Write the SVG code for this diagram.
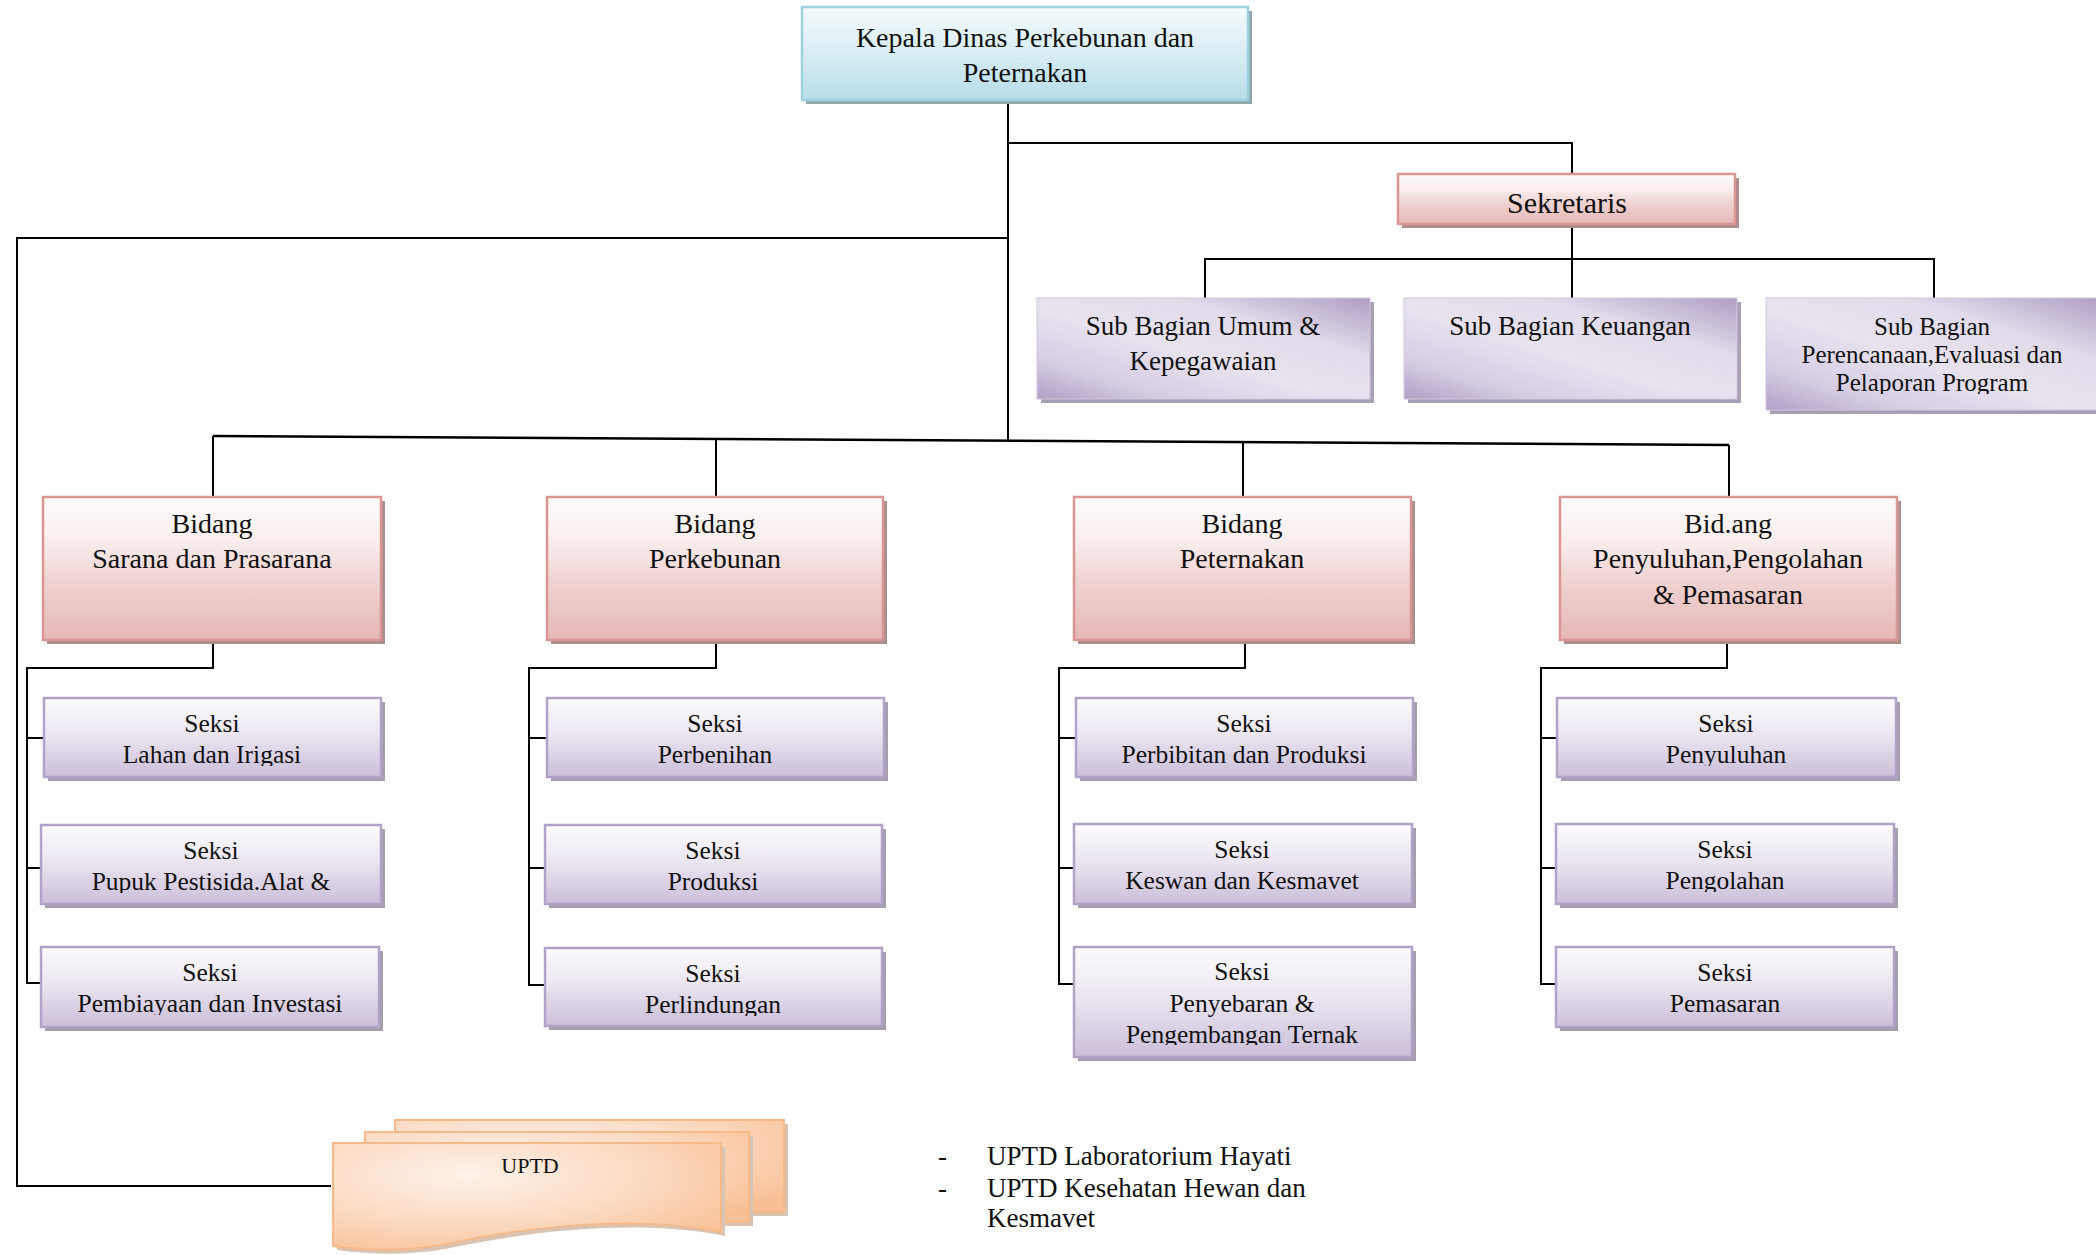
<svg xmlns="http://www.w3.org/2000/svg" width="2096" height="1255" viewBox="0 0 2096 1255">
<defs>
<style>
.lbl{font-family:"Liberation Serif","Times New Roman",serif;fill:#111;text-anchor:middle}
.conn path,.conn line{stroke:#000;stroke-width:2;fill:none}
.shB{fill:#8fa8b1}
.shR{fill:#ab8e8d}
.shP{fill:#a59eae}
.shS{fill:#a79fb3}
.boxTop{fill:url(#gBlue);stroke:#9fd2e0;stroke-width:2.5}
.boxRed{fill:url(#gRed);stroke:#d99694;stroke-width:2.5}
.boxSek{fill:url(#gPur);stroke:#b3a2c7;stroke-width:2.5}
.boxSub{fill:url(#gSub);stroke:#d2c8df;stroke-width:1}
.doc{fill:url(#gPeach);stroke:#f5b98a;stroke-width:2}
.docsh{fill:#d9c3b3}
</style>
<linearGradient id="gBlue" x1="0" y1="0" x2="0" y2="1">
<stop offset="0" stop-color="#f4fafc"/><stop offset="0.45" stop-color="#dbeef4"/><stop offset="1" stop-color="#b6dde8"/>
</linearGradient>
<linearGradient id="gRed" x1="0" y1="0" x2="0" y2="1">
<stop offset="0" stop-color="#fefbfb"/><stop offset="0.3" stop-color="#faeeee"/><stop offset="0.6" stop-color="#efd2d1"/><stop offset="1" stop-color="#e6b8b7"/>
</linearGradient>
<linearGradient id="gPur" x1="0" y1="0" x2="0" y2="1">
<stop offset="0" stop-color="#fcfbfd"/><stop offset="0.45" stop-color="#ebe6f1"/><stop offset="1" stop-color="#cbbfd9"/>
</linearGradient>
<linearGradient id="gSub" x1="1" y1="0" x2="0" y2="1">
<stop offset="0" stop-color="#ae9dc4"/><stop offset="0.3" stop-color="#e2dcea"/><stop offset="0.55" stop-color="#e7e2ee"/><stop offset="0.8" stop-color="#d6cde3"/><stop offset="1" stop-color="#b09fc6"/>
</linearGradient>
<radialGradient id="gPeach" cx="0.35" cy="0.3" r="0.85">
<stop offset="0" stop-color="#fdf1e8"/><stop offset="0.5" stop-color="#fbdcc4"/><stop offset="1" stop-color="#f8bf94"/>
</radialGradient>
<clipPath id="cSek"><rect x="1398" y="174" width="337" height="41"/></clipPath>
<clipPath id="cS3"><rect x="1766" y="298" width="340" height="96"/></clipPath>
<clipPath id="c11"><rect x="44" y="698" width="337" height="68"/></clipPath>
<clipPath id="c12"><rect x="41" y="825" width="340" height="68"/></clipPath>
<clipPath id="c13"><rect x="41" y="947" width="338" height="68"/></clipPath>
<clipPath id="c21"><rect x="547" y="698" width="337" height="68"/></clipPath>
<clipPath id="c22"><rect x="545" y="825" width="337" height="68"/></clipPath>
<clipPath id="c23"><rect x="545" y="948" width="337" height="68"/></clipPath>
<clipPath id="c31"><rect x="1076" y="698" width="337" height="68"/></clipPath>
<clipPath id="c32"><rect x="1074" y="824" width="338" height="68"/></clipPath>
<clipPath id="c33"><rect x="1074" y="947" width="338" height="98"/></clipPath>
<clipPath id="c41"><rect x="1557" y="698" width="339" height="68"/></clipPath>
<clipPath id="c42"><rect x="1556" y="824" width="338" height="68"/></clipPath>
<clipPath id="c43"><rect x="1556" y="947" width="338" height="68"/></clipPath>
</defs>
<rect x="0" y="0" width="2096" height="1255" fill="#fff"/>

<g id="connectors" class="conn">
<path d="M1008,100 V441"/>
<path d="M1008,143 H1572 V174"/>
<path d="M1008,238 H17 V1186 H331"/>
<path d="M1572,224 V298"/>
<path d="M1205,298 V259 H1934 V298"/>
<line x1="213" y1="436" x2="1729" y2="445" style="stroke-width:2.5"/>
<path d="M213,436 V497"/>
<path d="M716,440 V497"/>
<path d="M1243,442 V497"/>
<path d="M1729,445 V497"/>
<path d="M213,640 V668 H27 V983 H41"/>
<path d="M27,738 H44"/>
<path d="M27,868 H41"/>
<path d="M716,640 V668 H529 V985 H545"/>
<path d="M529,738 H547"/>
<path d="M529,868 H545"/>
<path d="M1245,640 V668 H1059 V984 H1074"/>
<path d="M1059,738 H1076"/>
<path d="M1059,868 H1074"/>
<path d="M1727,640 V668 H1541 V984 H1556"/>
<path d="M1541,738 H1557"/>
<path d="M1541,868 H1556"/>
</g>

<g id="kepala">
<rect class="shB" x="806" y="11" width="446" height="93"/>
<rect class="boxTop" x="802" y="7" width="446" height="93"/>
<text class="lbl" font-size="28" x="1025" y="47">Kepala Dinas Perkebunan dan</text>
<text class="lbl" font-size="28" x="1025" y="82">Peternakan</text>
</g>

<g id="sekretaris">
<rect class="shR" x="1402" y="178" width="337" height="50"/>
<rect class="boxRed" x="1398" y="174" width="337" height="50"/>
<text class="lbl" font-size="30" x="1567" y="213" clip-path="url(#cSek)">Sekretaris</text>
</g>

<g id="sub-umum">
<rect class="shS" x="1041" y="302" width="333" height="101"/>
<rect class="boxSub" x="1037" y="298" width="333" height="101"/>
<text class="lbl" font-size="27" x="1203" y="335">Sub Bagian Umum &amp;</text>
<text class="lbl" font-size="27" x="1203" y="370">Kepegawaian</text>
</g>

<g id="sub-keuangan">
<rect class="shS" x="1408" y="302" width="333" height="101"/>
<rect class="boxSub" x="1404" y="298" width="333" height="101"/>
<text class="lbl" font-size="27" x="1570" y="335">Sub Bagian Keuangan</text>
</g>

<g id="sub-perencanaan">
<rect class="shS" x="1770" y="302" width="340" height="112"/>
<rect class="boxSub" x="1766" y="298" width="340" height="112"/>
<g clip-path="url(#cS3)">
<text class="lbl" font-size="25" x="1932" y="335">Sub Bagian</text>
<text class="lbl" font-size="25" x="1932" y="363">Perencanaan,Evaluasi dan</text>
<text class="lbl" font-size="25" x="1932" y="391">Pelaporan Program</text>
</g>
</g>

<g id="bidang-sarana">
<rect class="shR" x="47" y="501" width="338" height="143"/>
<rect class="boxRed" x="43" y="497" width="338" height="143"/>
<text class="lbl" font-size="28" x="212" y="533">Bidang</text>
<text class="lbl" font-size="28" x="212" y="568">Sarana dan Prasarana</text>
</g>

<g id="bidang-perkebunan">
<rect class="shR" x="551" y="501" width="336" height="143"/>
<rect class="boxRed" x="547" y="497" width="336" height="143"/>
<text class="lbl" font-size="28" x="715" y="533">Bidang</text>
<text class="lbl" font-size="28" x="715" y="568">Perkebunan</text>
</g>

<g id="bidang-peternakan">
<rect class="shR" x="1078" y="501" width="337" height="143"/>
<rect class="boxRed" x="1074" y="497" width="337" height="143"/>
<text class="lbl" font-size="28" x="1242" y="533">Bidang</text>
<text class="lbl" font-size="28" x="1242" y="568">Peternakan</text>
</g>

<g id="bidang-penyuluhan">
<rect class="shR" x="1564" y="501" width="337" height="143"/>
<rect class="boxRed" x="1560" y="497" width="337" height="143"/>
<text class="lbl" font-size="28" x="1728" y="533">Bid.ang</text>
<text class="lbl" font-size="28" x="1728" y="568">Penyuluhan,Pengolahan</text>
<text class="lbl" font-size="28" x="1728" y="604">&amp; Pemasaran</text>
</g>

<g id="seksi-lahan">
<rect class="shP" x="48" y="702" width="337" height="79"/>
<rect class="boxSek" x="44" y="698" width="337" height="79"/>
<g clip-path="url(#c11)"><text class="lbl" font-size="25.5" x="212" y="732">Seksi</text><text class="lbl" font-size="25.5" x="212" y="763">Lahan dan Irigasi</text></g>
</g>
<g id="seksi-pupuk">
<rect class="shP" x="45" y="829" width="340" height="79"/>
<rect class="boxSek" x="41" y="825" width="340" height="79"/>
<g clip-path="url(#c12)"><text class="lbl" font-size="25.5" x="211" y="859">Seksi</text><text class="lbl" font-size="25.5" x="211" y="890">Pupuk Pestisida.Alat &amp;</text></g>
</g>
<g id="seksi-pembiayaan">
<rect class="shP" x="45" y="951" width="338" height="80"/>
<rect class="boxSek" x="41" y="947" width="338" height="80"/>
<g clip-path="url(#c13)"><text class="lbl" font-size="25.5" x="210" y="981">Seksi</text><text class="lbl" font-size="25.5" x="210" y="1012">Pembiayaan dan Investasi</text></g>
</g>

<g id="seksi-perbenihan">
<rect class="shP" x="551" y="702" width="337" height="79"/>
<rect class="boxSek" x="547" y="698" width="337" height="79"/>
<g clip-path="url(#c21)"><text class="lbl" font-size="25.5" x="715" y="732">Seksi</text><text class="lbl" font-size="25.5" x="715" y="763">Perbenihan</text></g>
</g>
<g id="seksi-produksi">
<rect class="shP" x="549" y="829" width="337" height="79"/>
<rect class="boxSek" x="545" y="825" width="337" height="79"/>
<g clip-path="url(#c22)"><text class="lbl" font-size="25.5" x="713" y="859">Seksi</text><text class="lbl" font-size="25.5" x="713" y="890">Produksi</text></g>
</g>
<g id="seksi-perlindungan">
<rect class="shP" x="549" y="952" width="337" height="78"/>
<rect class="boxSek" x="545" y="948" width="337" height="78"/>
<g clip-path="url(#c23)"><text class="lbl" font-size="25.5" x="713" y="982">Seksi</text><text class="lbl" font-size="25.5" x="713" y="1013">Perlindungan</text></g>
</g>

<g id="seksi-perbibitan">
<rect class="shP" x="1080" y="702" width="337" height="79"/>
<rect class="boxSek" x="1076" y="698" width="337" height="79"/>
<g clip-path="url(#c31)"><text class="lbl" font-size="25.5" x="1244" y="732">Seksi</text><text class="lbl" font-size="25.5" x="1244" y="763">Perbibitan dan Produksi</text></g>
</g>
<g id="seksi-keswan">
<rect class="shP" x="1078" y="828" width="338" height="80"/>
<rect class="boxSek" x="1074" y="824" width="338" height="80"/>
<g clip-path="url(#c32)"><text class="lbl" font-size="25.5" x="1242" y="858">Seksi</text><text class="lbl" font-size="25.5" x="1242" y="889">Keswan dan Kesmavet</text></g>
</g>
<g id="seksi-penyebaran">
<rect class="shP" x="1078" y="951" width="338" height="110"/>
<rect class="boxSek" x="1074" y="947" width="338" height="110"/>
<g clip-path="url(#c33)"><text class="lbl" font-size="25.5" x="1242" y="980">Seksi</text><text class="lbl" font-size="25.5" x="1242" y="1012">Penyebaran &amp;</text><text class="lbl" font-size="25.5" x="1242" y="1043">Pengembangan Ternak</text></g>
</g>

<g id="seksi-penyuluhan">
<rect class="shP" x="1561" y="702" width="339" height="79"/>
<rect class="boxSek" x="1557" y="698" width="339" height="79"/>
<g clip-path="url(#c41)"><text class="lbl" font-size="25.5" x="1726" y="732">Seksi</text><text class="lbl" font-size="25.5" x="1726" y="763">Penyuluhan</text></g>
</g>
<g id="seksi-pengolahan">
<rect class="shP" x="1560" y="828" width="338" height="80"/>
<rect class="boxSek" x="1556" y="824" width="338" height="80"/>
<g clip-path="url(#c42)"><text class="lbl" font-size="25.5" x="1725" y="858">Seksi</text><text class="lbl" font-size="25.5" x="1725" y="889">Pengolahan</text></g>
</g>
<g id="seksi-pemasaran">
<rect class="shP" x="1560" y="951" width="338" height="80"/>
<rect class="boxSek" x="1556" y="947" width="338" height="80"/>
<g clip-path="url(#c43)"><text class="lbl" font-size="25.5" x="1725" y="981">Seksi</text><text class="lbl" font-size="25.5" x="1725" y="1012">Pemasaran</text></g>
</g>

<g id="uptd">
<path class="docsh" d="M399,1124 H788 V1216 H399 Z"/>
<path class="doc" d="M395,1120 H784 V1212 H395 Z"/>
<path class="docsh" d="M369,1136 H753 V1226 H369 Z"/>
<path class="doc" d="M365,1132 H749 V1222 H365 Z"/>
<path class="docsh" d="M337,1147 H725 V1236 C625,1216 505,1236 445,1249 C405,1256 365,1254 337,1250 Z"/>
<path class="doc" d="M333,1143 H721 V1232 C621,1212 501,1232 441,1245 C401,1252 361,1250 333,1246 Z"/>
<text class="lbl" font-size="22" x="530" y="1173">UPTD</text>
</g>

<g id="uptd-list" font-family="Liberation Serif, Times New Roman, serif" font-size="27" fill="#111">
<text x="938" y="1165">-</text>
<text x="987" y="1165">UPTD Laboratorium Hayati</text>
<text x="938" y="1197">-</text>
<text x="987" y="1197">UPTD Kesehatan Hewan dan</text>
<text x="987" y="1227">Kesmavet</text>
</g>
</svg>
